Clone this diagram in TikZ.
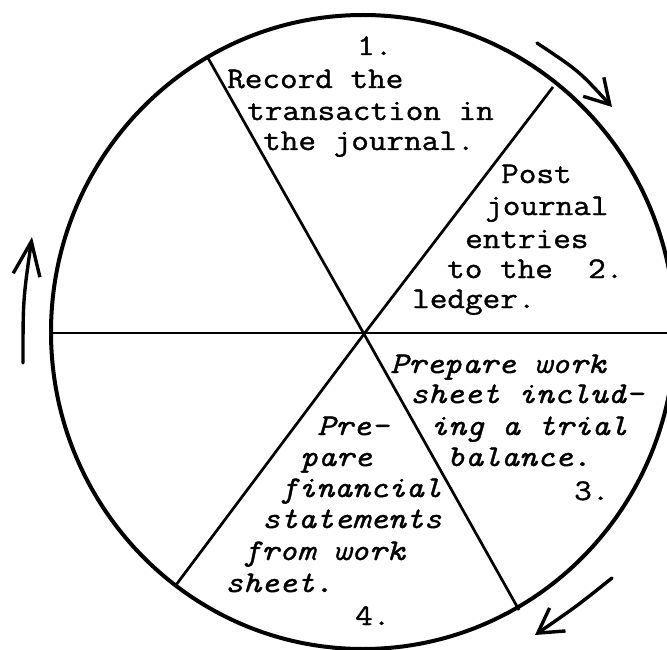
\documentclass[tikz,border=0pt]{standalone}
\usepackage{fontspec}
\newfontfamily\tw{Latin Modern Mono}[FakeStretch=1.14, FakeBold=1.2]
\usetikzlibrary{arrows.meta}
\begin{document}
\begin{tikzpicture}[x=1pt,y=-1pt,
  txt/.style={font=\tw\fontsize{30}{31}\selectfont, anchor=base west, inner sep=0pt},
  itx/.style={font=\tw\itshape\fontsize{30}{31}\selectfont, anchor=base west, inner sep=0pt},
  rim/.style={line width=4pt},
  spoke/.style={line width=2.7pt},
  flow/.style={line width=3.4pt, line cap=round},
  tipA/.style={-{Straight Barb[length=24pt,width=28pt,line width=3.4pt]}},
  tipB/.style={-{Straight Barb[length=34pt,width=27pt,line width=3.4pt]}}]
\useasboundingbox (0,0) rectangle (667,650);
\clip (0,0) rectangle (667,650);
% rim
\draw[rim] (363,332) ellipse [x radius=312pt, y radius=317pt];
% spokes
\coordinate (c) at (364,334);
\coordinate (ul) at (208,58);
\coordinate (lr) at (519,610);
\coordinate (ur) at (553,87);
\coordinate (ll) at (176,585);
\coordinate (hl) at (51,333);
\coordinate (hr) at (667,333);
\draw[spoke] (ul) -- (c) -- (lr);
\draw[spoke] (ur) -- (c) -- (ll);
\draw[spoke] (hl) -- (hr);
% flow arrows
\coordinate (a1s) at (537,43);
\coordinate (a1e) at (612,107);
\coordinate (a2s) at (612,578);
\coordinate (a2e) at (535,635);
\coordinate (a3s) at (23,363);
\coordinate (a3e) at (32,237);
\draw[flow,tipA] (a1s) .. controls (579,71) .. (a1e);
\draw[flow,tipA] (a2s) .. controls (577,606) .. (a2e);
\draw[flow,tipB] (a3s) .. controls (23,300) .. (a3e);
% sector 1
\node[txt] (s1n) at (357,55) {1.};
\node[txt] (s1a) at (227,88) {Record the};
\node[txt] (s1b) at (247,120) {transaction in};
\node[txt] (s1c) at (263,150) {the journal.};
% sector 2
\node[txt] (s2a) at (501,183) {Post};
\node[txt] (s2b) at (485,215) {journal};
\node[txt] (s2c) at (465,248) {entries};
\node[txt] (s2d) at (447,278) {to the\ \ 2.};
\node[txt] (s2e) at (412,308) {ledger.};
% sector 3
\node[itx] (s3a) at (390,373) {Prepare work};
\node[itx] (s3b) at (410,403) {sheet includ-};
\node[itx] (s3c) at (430,435) {ing a trial};
\node[itx] (s3d) at (447,466) {balance.};
\node[txt] (s3n) at (574,500) {3.};
% sector 4
\node[itx] (s4a) at (317,435) {Pre-};
\node[itx] (s4b) at (300,466) {pare};
\node[itx] (s4c) at (280,497) {financial};
\node[itx] (s4d) at (262,528) {statements};
\node[itx] (s4e) at (243,560) {from work};
\node[itx] (s4f) at (225,592) {sheet.};
\node[txt] (s4n) at (355,625) {4.};
\end{tikzpicture}
\end{document}
